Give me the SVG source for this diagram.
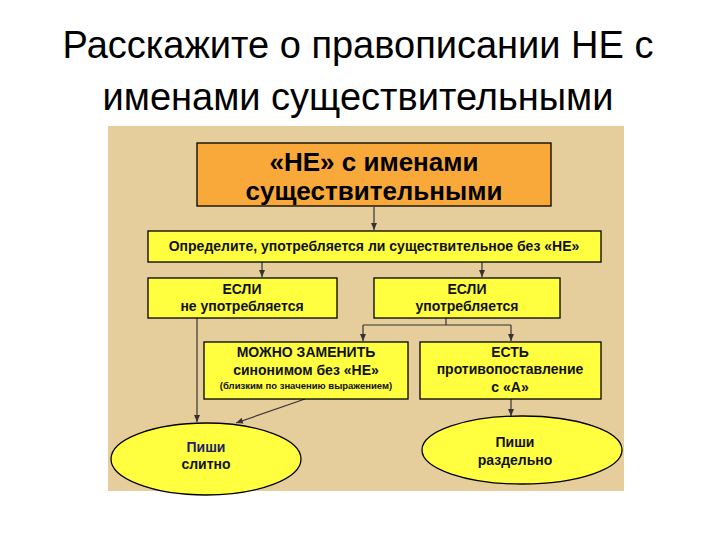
<svg xmlns="http://www.w3.org/2000/svg" width="720" height="540" viewBox="0 0 720 540">
<style>
text{font-family:"Liberation Sans",Arial,sans-serif;text-anchor:middle}
.t{font-size:38px;fill:#000}
.b{fill:#FFFF40;stroke:#000;stroke-width:1.3}
.l{font-size:14px;font-weight:bold;fill:#111}
.c{stroke:#333;stroke-width:1.2;fill:none;marker-end:url(#a)}
</style>
<defs><marker id="a" markerWidth="8" markerHeight="8" refX="7" refY="4" orient="auto" markerUnits="userSpaceOnUse"><path d="M0,1 L7,4 L0,7z" fill="#333"/></marker></defs>
<rect width="720" height="540" fill="#fff"/>
<text class="t" x="358" y="58">Расскажите о правописании НЕ с</text>
<text class="t" x="358" y="110">именами существительными</text>
<rect x="108" y="126" width="516" height="365" fill="#E6CD9C"/>
<g id="connectors">
<path class="c" d="M374,207 V230"/>
<path class="c" d="M262,262 V277"/>
<path class="c" d="M482,262 V277"/>
<path class="c" d="M197,318 V422"/>
<path d="M446,318 V325 M363,325 H511" stroke="#333" stroke-width="1.2"/>
<path class="c" d="M363,325 V341"/>
<path class="c" d="M511,325 V341"/>
<path class="c" d="M305,399 L236,423"/>
<path class="c" d="M511,399 V416"/>
</g>
<g id="top"><rect x="197" y="143" width="354" height="63" fill="#F9A93A" stroke="#000" stroke-width="1.3"/>
<text x="374" y="171" font-size="26" font-weight="bold">«НЕ» с именами</text>
<text x="374" y="200" font-size="26" font-weight="bold">существительными</text></g>
<g id="define"><rect class="b" x="148" y="231" width="453" height="31"/>
<text class="l" x="374" y="251">Определите, употребляется ли существительное  без «НЕ»</text></g>
<g id="if1"><rect class="b" x="148" y="278" width="189" height="40"/>
<text class="l" x="242" y="294">ЕСЛИ</text><text class="l" x="242" y="311">не употребляется</text></g>
<g id="if2"><rect class="b" x="374" y="278" width="186" height="40"/>
<text class="l" x="467" y="294">ЕСЛИ</text><text class="l" x="467" y="311">употребляется</text></g>
<g id="syn"><rect class="b" x="204" y="342" width="204" height="57"/>
<text class="l" x="306" y="357">МОЖНО  ЗАМЕНИТЬ</text><text class="l" x="306" y="375">синонимом  без «НЕ»</text>
<text x="306" y="389" font-size="9.5" font-weight="bold" fill="#111">(близким по значению  выражением)</text></g>
<g id="opp"><rect class="b" x="420" y="342" width="181" height="57"/>
<text class="l" x="510" y="357">ЕСТЬ</text><text class="l" x="510" y="374">противопоставление</text><text class="l" x="510" y="392">с  «А»</text></g>
<g id="e1"><ellipse class="b" cx="206" cy="459" rx="95" ry="36"/>
<text class="l" x="206" y="452" style="fill:#22226a">Пиши</text><text class="l" x="206" y="469">слитно</text></g>
<g id="e2"><ellipse class="b" cx="522" cy="450" rx="100" ry="34"/>
<text class="l" x="515" y="447">Пиши</text><text class="l" x="515" y="465">раздельно</text></g>
</svg>
